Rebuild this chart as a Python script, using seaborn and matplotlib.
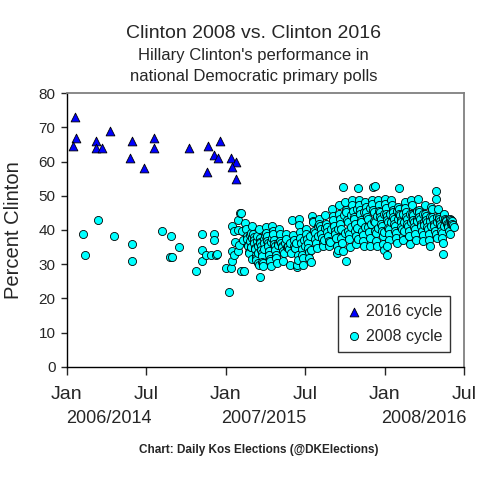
import pandas as pd
import seaborn as sns
import matplotlib.pyplot as plt
import matplotlib.transforms as mtransforms

# 2016 cycle polls (x = months since Jan 2014, y = Clinton %)
c16_month = [0.6, 0.7, 0.5, 2.2, 2.2, 2.7, 3.3, 4.9, 4.8, 5.8, 6.6, 6.6,
             9.2, 10.7, 10.6, 11.6, 11.1, 11.4, 12.4, 12.8, 12.5, 12.8]
c16_pct = [73, 67, 64.5, 66, 64, 64, 69, 66, 61, 58, 67, 64,
           64, 64.5, 57, 66, 62, 61, 61, 60, 58.5, 55]

# 2008 cycle polls (x = months since Jan 2006, y = Clinton %)
c08_month = [
    1.2, 1.35, 2.35, 3.55, 4.9, 4.9, 7.2, 7.85, 7.8, 7.95, 8.5, 9.8, 10.2, 10.2,
    10.2, 10.5, 10.9, 11.1, 11.1, 11.3, 11.35,
    12.05, 12.25, 12.4, 12.45, 12.45, 12.5, 12.6, 12.6, 12.7, 12.9, 12.9, 12.95,
    13.0, 13.1, 13.15, 13.15, 13.2, 13.35, 13.4, 13.45,
    13.52, 13.58, 13.61, 13.66, 13.69, 13.74, 13.78, 13.81, 13.86, 13.88, 13.91, 13.94, 13.97, 14.02,
    14.03, 14.07, 14.12, 14.13, 14.18, 14.21, 14.24, 14.27, 14.29, 14.33, 14.36, 14.38, 14.42, 14.44, 14.47, 14.51,
    14.54, 14.57, 14.59, 14.63, 14.66, 14.68, 14.72, 14.76, 14.78, 14.82, 14.84, 14.87, 14.91, 14.93, 14.97, 14.6,
    15.03, 15.07, 15.11, 15.13, 15.18, 15.22, 15.26, 15.28, 15.32, 15.36, 15.41, 15.44, 15.48,
    15.52, 15.57, 15.61, 15.64, 15.68, 15.72, 15.76, 15.79, 15.83, 15.88, 15.93, 15.98,
    16.04, 16.09, 16.13, 16.18, 16.24, 16.27, 16.31, 16.36, 16.41, 16.47,
    16.53, 16.58, 16.63, 16.68, 16.74, 16.79, 16.84, 16.88, 16.96,
    17.04, 17.08, 17.14, 17.18, 17.23, 17.27, 17.32, 17.36, 17.41, 17.44, 17.49,
    17.52, 17.56, 17.62, 17.64, 17.71, 17.74, 17.79, 17.84, 17.88, 17.93, 17.98,
    18.04, 18.08, 18.13, 18.19, 18.23, 18.28, 18.33, 18.38, 18.43, 18.48,
    18.53, 18.58, 18.63, 18.69, 18.73, 18.78, 18.83, 18.88, 18.94, 18.98,
    19.03, 19.08, 19.13, 19.18, 19.24, 19.28, 19.33, 19.38, 19.44, 19.48,
    19.53, 19.58, 19.63, 19.68, 19.74, 19.78, 19.83, 19.88, 19.96,
    20.03, 20.08, 20.14, 20.18, 20.23, 20.28, 20.33, 20.38, 20.42, 20.46, 20.49,
    20.53, 20.58, 20.62, 20.67, 20.71, 20.74, 20.79, 20.84, 21.1, 20.9, 20.94, 20.99,
    21.04, 21.08, 21.12, 21.16, 21.21, 21.24, 21.29, 21.34, 21.39, 21.44, 21.48,
    21.53, 21.57, 21.62, 21.66, 21.69, 21.74, 21.78, 21.83, 21.88, 21.92, 21.94, 21.99,
    22.0, 22.04, 22.09, 22.12, 22.16, 22.19, 22.24, 22.29, 22.34, 22.38, 22.43, 22.46, 22.49,
    22.53, 22.58, 22.63, 22.68, 22.73, 22.79, 22.83, 22.88, 22.92, 22.94, 22.98,
    23.15, 23.3, 23.04, 23.08, 23.13, 23.18, 23.22, 23.26, 23.31, 23.34, 23.39, 23.43, 23.46, 23.49,
    23.52, 23.56, 23.61, 23.64, 23.68, 23.72, 23.76, 23.79, 23.83, 23.87, 23.91, 23.94, 23.97, 23.99,
    24.03, 24.07, 24.11, 24.14, 24.17, 24.21, 24.23, 24.27, 24.31, 24.34, 24.37, 24.19, 24.22, 24.44, 24.48,
    24.52, 24.56, 24.61, 24.63, 24.67, 24.71, 24.74, 24.77, 24.81, 24.86, 24.89, 24.92, 24.94, 24.99,
    25.1, 25.03, 25.08, 25.13, 25.17, 25.21, 25.24, 25.27, 25.31, 25.36, 25.38, 25.42, 25.46, 25.49,
    25.53, 25.57, 25.62, 25.66, 25.69, 25.73, 25.78, 25.84, 25.87, 25.92, 25.94, 25.98,
    26.02, 26.06, 26.09, 26.13, 26.17, 26.21, 26.24, 26.29, 26.33, 26.38, 26.42, 26.46, 26.49,
    26.52, 26.57, 26.61, 26.64, 26.69, 26.73, 26.78, 26.83, 26.87, 26.91, 26.94, 26.97, 26.99,
    27.03, 27.07, 27.12, 27.14, 27.18, 27.23, 27.28, 27.33, 27.37, 27.41, 27.43, 27.47, 27.49,
    27.9, 27.88, 27.53, 27.58, 27.62, 27.67, 27.73, 27.77, 27.83, 27.86, 27.93, 27.96, 27.99,
    28.03, 28.08, 28.13, 28.17, 28.22, 28.24, 28.28, 28.33, 28.37, 28.42, 28.4, 28.44, 28.48,
    28.53, 28.58, 28.63, 28.68, 28.73, 28.78, 28.83, 28.88, 28.93, 28.97, 29.01,
    29.04, 29.09, 29.13, 29.17, 29.22,
]
c08_pct = [
    38.8, 32.8, 43, 38.2, 35.9, 30.9, 39.8, 38.2, 32, 32.2, 35, 28, 38.8, 34,
    30.9, 32.8, 32.8, 38.8, 37, 32.8, 33,
    29, 21.9, 29, 41.3, 30.9, 33.8, 32.6, 39.6, 36.5, 33.8, 40, 43,
    35.5, 45, 44.9, 28, 39.8, 37.1, 28, 42,
    40.3, 38.1, 37.4, 35.6, 35.2, 33.7, 33.4, 38.6, 36.8, 35.1, 39.2, 34.9, 31.6, 37.8,
    41.2, 38.7, 37.9, 37.2, 36.3, 34.8, 34.3, 32.7, 31.8, 31.2, 36.9, 38.3, 35.4, 33.2, 30.3, 29.7,
    40.4, 37.8, 36.6, 36.2, 35.3, 34.1, 33.3, 32.4, 30.7, 30.2, 29.4, 37.3, 36.1, 34.3, 38.6, 26.1,
    40.8, 39.2, 38.3, 36.7, 36.2, 35.3, 33.8, 32.7, 31.4, 30.8, 29.5, 36.6, 37.6,
    41.2, 39.6, 38.7, 37.2, 35.8, 35.3, 34.2, 32.6, 31.8, 30.3, 36.3, 35.6,
    40.2, 38.7, 36.8, 36.3, 35.2, 34.9, 33.8, 30.9, 33.3, 36.1,
    38.8, 37.3, 35.1, 34.9, 35.2, 34.4, 36.2, 29.8, 33.2,
    42.8, 38.6, 37.2, 35.3, 34.8, 34.6, 36.3, 29.2, 29.9, 32.8, 31.3,
    43.1, 41.6, 39.3, 37.8, 36.2, 34.3, 32.7, 31.8, 29.7, 37.2, 35.3,
    40.2, 38.8, 37.3, 36.2, 34.8, 33.6, 31.7, 38.3, 34.2, 30.7,
    44.2, 42.7, 42.2, 39.6, 39.2, 37.3, 36.3, 34.8, 41.2, 38.3,
    43.2, 41.8, 41.3, 40.2, 38.7, 37.8, 36.3, 35.3, 37.2, 40.6,
    44.3, 41.7, 40.8, 39.3, 38.2, 36.8, 35.2, 36.6, 40.2,
    46.2, 44.1, 42.8, 41.2, 39.6, 38.7, 37.6, 35.2, 33.4, 34.2, 40.3,
    47.3, 44.8, 43.2, 41.7, 40.2, 37.8, 36.3, 33.8, 30.9, 52.7, 44.3, 39.2,
    48.2, 45.8, 45.2, 42.8, 42.2, 39.7, 38.8, 37.4, 35.1, 44.3, 40.8,
    48.8, 47.2, 45.6, 43.8, 43.3, 41.7, 39.6, 38.3, 35.8, 46.2, 40.7, 37.4,
    52.2, 48.7, 47.3, 45.8, 44.6, 42.8, 42.3, 39.8, 38.6, 36.8, 35.2, 45.2, 40.8,
    48.2, 46.7, 45.3, 43.8, 43.2, 40.8, 39.3, 37.6, 35.4, 46.3, 41.8,
    52.7, 52.9, 48.8, 47.6, 45.8, 45.2, 42.7, 42.2, 39.8, 39.2, 36.8, 35.3, 44.2, 40.7,
    48.8, 47.2, 45.7, 45.2, 43.8, 43.3, 41.7, 41.2, 39.8, 38.2, 35.8, 34.2, 44.6, 39.3,
    49.2, 47.7, 46.3, 44.8, 44.2, 42.8, 42.3, 40.7, 40.2, 38.8, 37.2, 35.2, 32.7, 44.7, 42.3,
    48.8, 47.2, 45.8, 45.3, 43.8, 43.2, 41.8, 41.3, 39.7, 39.2, 37.8, 36.2, 45.6, 43.3,
    52.4, 46.8, 46.2, 44.8, 44.3, 42.8, 42.2, 40.8, 40.3, 38.3, 37.2, 44.7, 42.3, 39.6,
    48.2, 46.3, 45.2, 43.8, 43.3, 41.8, 41.2, 39.8, 38.2, 35.8, 44.6, 42.3,
    48.8, 47.2, 44.8, 44.3, 42.8, 42.2, 40.8, 40.3, 38.8, 37.2, 45.7, 43.3, 42.6,
    49.2, 45.8, 45.3, 43.7, 43.2, 41.8, 41.3, 39.8, 38.6, 36.8, 44.7, 42.3, 41.6,
    47.2, 44.8, 44.2, 42.8, 42.3, 40.8, 40.2, 38.8, 37.2, 35.2, 43.7, 42.6, 41.3,
    51.3, 49.2, 46.8, 46.2, 43.8, 43.3, 41.8, 41.2, 39.8, 38.7, 37.8, 43.7, 42.2,
    46.2, 43.8, 43.2, 42.7, 41.8, 41.2, 39.8, 39.2, 37.8, 36.2, 33.0, 43.6, 41.3,
    44.7, 43.3, 42.8, 42.6, 41.8, 41.6, 40.8, 39.8, 38.7, 43.2, 41.8,
    42.8, 42.6, 41.8, 41.4, 40.8,
]

tick_months = [0, 6, 12, 18, 24, 30]
tick_labels = ['Jan', 'Jul', 'Jan', 'Jul', 'Jan', 'Jul']
year_labels = ['2006/2014', '2007/2015', '2008/2016']
year_pos = [3.2, 14.85, 27.0]

sns.set_style('white')
plt.rcParams['font.family'] = ['Liberation Sans', 'DejaVu Sans']

df08 = pd.DataFrame({'month': c08_month, 'pct': c08_pct})
df16 = pd.DataFrame({'month': c16_month, 'pct': c16_pct})

fig = plt.figure(figsize=(4.92, 4.84), dpi=100)
ax = fig.add_axes([0.1356, 0.2424, 0.8074, 0.5648])

sns.scatterplot(data=df08, x='month', y='pct', marker='o', color='#00FFFF',
                edgecolor='black', linewidth=0.6, s=34, ax=ax, label='2008 cycle', zorder=3)
sns.scatterplot(data=df16, x='month', y='pct', marker='^', color='#0000FF',
                edgecolor='black', linewidth=0.6, s=40, ax=ax, label='2016 cycle', zorder=4)

ax.set_xlim(0, 30)
ax.set_ylim(0, 80)
ax.set_yticks(range(0, 81, 10))
ax.set_xticks(tick_months)
ax.set_xticklabels(tick_labels)
ax.tick_params(axis='x', direction='out', length=6, width=1, pad=8, labelsize=14, bottom=True)
ax.tick_params(axis='y', direction='out', length=4, width=1, pad=4, labelsize=11, left=True)
ax.set_xlabel('')
ax.set_ylabel('Percent Clinton', fontsize=14.5)
ax.yaxis.set_label_coords(-0.11, 0.5)

for side in ['left', 'bottom']:
    ax.spines[side].set_color('black')
    ax.spines[side].set_linewidth(1)
for side in ['top', 'right']:
    ax.spines[side].set_color('#808080')
    ax.spines[side].set_linewidth(1.3)

trans = mtransforms.blended_transform_factory(ax.transData, ax.transAxes)
for pos, lab in zip(year_pos, year_labels):
    ax.text(pos, -0.205, lab, transform=trans, ha='center', va='baseline', fontsize=13)

handles, labels = ax.get_legend_handles_labels()
leg = ax.legend(handles[::-1], labels[::-1], loc='lower right', bbox_to_anchor=(0.965, 0.055),
                borderaxespad=0, frameon=True, fancybox=False, fontsize=11.5,
                handletextpad=0.2, handlelength=1.0, borderpad=0.5, labelspacing=0.6)
leg.get_frame().set_edgecolor('black')
leg.get_frame().set_linewidth(1)

fig.text(0.516, 0.921, 'Clinton 2008 vs. Clinton 2016', ha='center', va='baseline', fontsize=14)
fig.text(0.516, 0.877, "Hillary Clinton's performance in", ha='center', va='baseline', fontsize=12)
fig.text(0.516, 0.833, 'national Democratic primary polls', ha='center', va='baseline', fontsize=12)
fig.text(0.525, 0.064, 'Chart: Daily Kos Elections (@DKElections)', ha='center', va='baseline',
         fontsize=8.5, fontweight='bold')

fig.savefig('out.png', dpi=100)
